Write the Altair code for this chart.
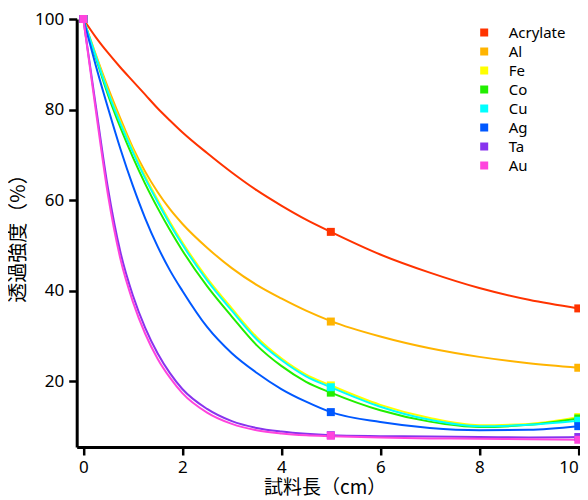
import altair as alt
import pandas as pd

series = ["Acrylate", "Al", "Fe", "Co", "Cu", "Ag", "Ta", "Au"]
colors = ["#FF3300", "#FFB400", "#FFFF00", "#22EE00", "#00FFFF", "#0058FF", "#8833EE", "#FF44DD"]

# smooth curve values
curve_x = [0, 0.25, 0.5, 0.75, 1, 1.25, 1.5, 1.75, 2, 2.5, 3, 3.5, 4, 4.5, 5, 6, 7, 8, 9, 10]
acrylate_curve = [100, 96, 92.5, 89.3, 86.3, 83.3, 80.3, 77.6, 75, 70.4, 66.1, 62.2, 58.8, 55.7, 53, 48, 44, 40.6, 38.0, 36.1]
al_curve = [100, 92.2, 84.8, 78.0, 71.6, 66.3, 61.8, 58.0, 54.8, 49.5, 45.0, 41.3, 38.3, 35.6, 33.3, 29.9, 27.3, 25.4, 24.0, 23.0]
fe_curve = [100, 92.0, 84.1, 77.3, 71.1, 65.3, 60.1, 55.2, 50.7, 42.8, 36.1, 29.8, 25.1, 21.5, 19.1, 14.8, 11.9, 10.3, 10.6, 12.1]
co_curve = [100, 91.5, 83.2, 76.0, 69.5, 63.6, 58.3, 53.4, 48.9, 41.0, 34.3, 28.0, 23.4, 19.9, 17.5, 13.6, 11.1, 9.9, 10.4, 11.8]
cu_curve = [100, 91.8, 83.8, 76.9, 70.6, 64.8, 59.6, 54.7, 50.2, 42.3, 35.6, 29.3, 24.7, 21.1, 18.7, 14.4, 11.5, 10.1, 10.4, 11.3]
ag_curve = [100, 89.8, 80.3, 71.3, 63.2, 56.0, 49.8, 44.5, 40.0, 32.0, 26.2, 21.9, 18.3, 15.5, 13.2, 11.0, 9.7, 9.2, 9.3, 10.1]
ta_curve = [100, 81, 62.5, 48.5, 39.0, 31.8, 26.2, 21.8, 18.3, 13.9, 11.2, 9.7, 8.9, 8.4, 8.1, 7.9, 7.8, 7.7, 7.6, 7.7]
au_curve = [100, 80, 61, 47, 37.6, 30.5, 25.0, 20.8, 17.4, 13.1, 10.6, 9.2, 8.5, 8.1, 7.9, 7.6, 7.4, 7.3, 7.2, 7.1]

# measured points (square markers)
point_x = [0, 5, 10]
acrylate_pts = [100, 53, 36.1]
al_pts = [100, 33.2, 23.0]
fe_pts = [100, 19.1, 12.1]
co_pts = [100, 17.5, 11.8]
cu_pts = [100, 18.7, 11.3]
ag_pts = [100, 13.2, 10.1]
ta_pts = [100, 8.1, 7.7]
au_pts = [100, 8.0, 7.1]

x_ticks = [0, 2, 4, 6, 8, 10]
y_ticks = [20, 40, 60, 80, 100]

curves = [acrylate_curve, al_curve, fe_curve, co_curve, cu_curve, ag_curve, ta_curve, au_curve]
pts = [acrylate_pts, al_pts, fe_pts, co_pts, cu_pts, ag_pts, ta_pts, au_pts]

curve_rows = []
for name, vals in zip(series, curves):
    for xv, yv in zip(curve_x, vals):
        curve_rows.append({"s": name, "x": xv, "v": yv})
curve_df = pd.DataFrame(curve_rows)

pt_rows = []
for name, vals in zip(series, pts):
    for xv, yv in zip(point_x, vals):
        pt_rows.append({"s": name, "x": xv, "v": yv})
pt_df = pd.DataFrame(pt_rows)

color_scale = alt.Scale(domain=series, range=colors)
x_scale = alt.Scale(domain=[-0.134, 10.028], nice=False, zero=False)
y_scale = alt.Scale(domain=[5.5, 100], nice=False, zero=False)

common_axis = dict(
    grid=False, domainColor="black", domainWidth=3, tickColor="black", tickWidth=2.5,
    tickSize=8, labelFont="Noto Sans", labelFontSize=17, labelColor="black",
    titleFont="Noto Sans CJK JP", titleColor="black",
    titleFontWeight="normal",
)

x_axis = alt.Axis(values=x_ticks, labelPadding=5, titleX=248, titleY=41, titleFontSize=19,
                  labelAlign=alt.ExprRef("datum.value == 10 ? 'right' : 'center'"),
                  titleAlign="center", titleBaseline="middle", **common_axis)
y_axis = alt.Axis(values=y_ticks, labelPadding=5, titleX=-58, titleY=214, titleFontSize=20,
                  titleAlign="center", titleBaseline="middle", titleAngle=270, **common_axis)

lines = alt.Chart(curve_df).mark_line(strokeWidth=2, interpolate="monotone").encode(
    x=alt.X("x:Q", scale=x_scale, axis=x_axis, title="試料長（cm）"),
    y=alt.Y("v:Q", scale=y_scale, axis=y_axis, title="透過強度（%）"),
    color=alt.Color("s:N", scale=color_scale, legend=None),
)

points = alt.Chart(pt_df).mark_square(size=64, opacity=1, filled=True).encode(
    x=alt.X("x:Q", scale=x_scale),
    y=alt.Y("v:Q", scale=y_scale),
    color=alt.Color("s:N", scale=color_scale, legend=alt.Legend(
        title=None, orient="none", legendX=400, legendY=6, padding=0,
        symbolType="square", symbolSize=64, symbolStrokeWidth=0, symbolOpacity=1,
        labelFont="Noto Sans", labelFontSize=15, labelColor="black",
        labelOffset=17, rowPadding=3,
    )),
)

chart = alt.layer(lines, points).resolve_legend(color="independent").properties(
    width=503, height=428,
    autosize=alt.AutoSizeParams(type="none"),
    padding={"left": 68.7, "top": 11, "right": 0, "bottom": 53},
).configure_view(stroke=None)

chart.save("out.html", embed_options={"renderer": "svg", "actions": False})
